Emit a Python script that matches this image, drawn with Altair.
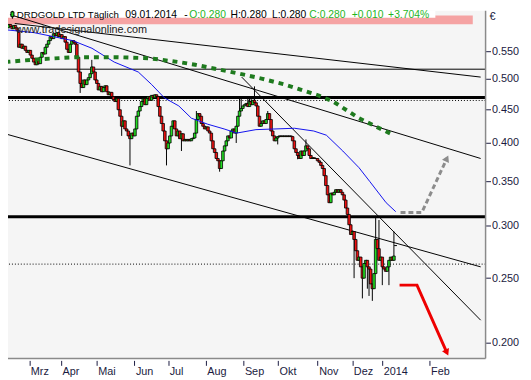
import altair as alt
import pandas as pd

# ---------------- data ----------------
closes = [
    .597, .604, .600, .595, .602, .597, .591, .558, .564, .556,
    .560, .552, .548, .552, .543, .537, .530, .525, .534, .527,
    .539, .548, .545, .558, .564, .571, .579, .575, .585, .581,
    .587, .579, .583, .575, .579, .568, .554, .548, .564, .571,
    .568, .564, .539, .512, .492, .485, .498, .490, .498, .502,
    .509, .521, .512, .498, .492, .481, .487, .478, .485, .488,
    .478, .473, .477, .470, .465, .462, .467, .449, .439, .424,
    .432, .420, .417, .410, .406, .414, .410, .420, .439, .447,
    .454, .462, .467, .457, .467, .470, .464, .472, .468, .473,
    .470, .454, .439, .428, .417, .403, .392, .400, .410, .424,
    .432, .420, .410, .417, .406, .413, .403, .405, .403, .405,
    .403, .406, .407, .414, .434, .443, .439, .428, .424, .420,
    .423, .417, .414, .403, .392, .387, .379, .376, .366, .376,
    .389, .396, .403, .410, .407, .417, .420, .414, .424, .439,
    .447, .451, .455, .457, .459, .454, .462, .457, .464, .460,
    .455, .439, .424, .428, .432, .428, .434, .443, .434, .417,
    .410, .403, .407, .409, .410, .409, .410, .409, .410, .409,
    .410, .409, .403, .392, .387, .383, .379, .389, .383, .389,
    .396, .392, .383, .379, .380, .379, .379, .376, .374, .370,
    .366, .357, .345, .334, .325, .336, .334, .337, .340, .337,
    .340, .337, .334, .328, .319, .312, .301, .291, .294, .286,
    .275, .266, .269, .260, .250, .263, .266, .260, .258, .245,
    .241, .254, .286, .277, .266, .269, .260, .258, .256, .260,
    .266, .269, .266, .270, .280,
]
first_open = 0.600
high_idx = [51, 114, 140, 141, 145, 146, 147, 149, 157, 180, 222, 224, 233]
high_val = [0.534, 0.447, 0.467, 0.470, 0.468, 0.467, 0.467, 0.487, 0.447, 0.405, 0.309, 0.306, 0.294]
low_idx = [44, 69, 74, 96, 105, 128, 138, 163, 175, 209, 214, 217, 218, 220, 226, 230]
low_val = [0.476, 0.410, 0.370, 0.370, 0.389, 0.362, 0.400, 0.398, 0.378, 0.250, 0.233, 0.241, 0.235, 0.231, 0.244, 0.244]

hdr_name = "DRDGOLD LTD Täglich"
hdr_date = "09.01.2014"
hdr_o, hdr_h, hdr_l, hdr_c = 0.280, 0.280, 0.280, 0.280
hdr_chg, hdr_pct = 0.010, 3.704
watermark = "www.tradesignalonline.com"
currency = "€"

ma_blue_i = [-1, 16.3, 27.9, 39.5, 51.1, 64.5, 79.0, 87.1, 94.7, 103.4, 111.0, 120.8,
             130.7, 138.3, 149.9, 173.1, 184.7, 192.3, 202.2, 212.0, 218.4, 228.3, 234.1]
ma_blue_p = [.593, .587, .579, .571, .556, .530, .512, .490, .468, .455, .436, .427,
             .420, .414, .419, .421, .417, .411, .389, .367, .350, .325, .315]
ma_green_i = [-1, 18.0, 41.2, 66.8, 86.0, 103.4, 113.3, 126.6, 140.0, 153.9, 167.3,
              173.1, 186.5, 196.4, 212.0, 222.5, 233.0]
ma_green_p = [.530, .535, .539, .539, .537, .530, .525, .517, .509, .500, .490,
              .485, .473, .462, .436, .423, .411]

level_thick = [0.4685, 0.3095]
level_thin = [0.517]
level_dotted = [0.4637, 0.2625]

trend_id = [1, 1, 2, 2, 3, 3, 4, 4]
trend_i = [4.6, 285.25, 1.7, 285.25, 141.3, 285.25, -1.2, 285.25]
trend_p = [0.606, 0.503, 0.625, 0.379, 0.503, 0.216, 0.413, 0.260]

gray_i = [237.0, 249.8, 264.9]
gray_p = [0.314, 0.314, 0.379]
red_i = [236.4, 246.9, 264.9]
red_p = [0.244, 0.244, 0.193]

month_names = ["Mrz", "Apr", "Mai", "Jun", "Jul", "Aug", "Sep", "Okt", "Nov", "Dez", "2014", "Feb"]
month_pos = [13.36, 32.53, 54.03, 76.69, 97.02, 119.68, 142.33, 163.25, 187.07, 207.98, 225.99, 254.46]
y_ticks = [0.2, 0.25, 0.3, 0.35, 0.4, 0.45, 0.5, 0.55]

# ---------------- build tables ----------------
n = len(closes)
opens = [first_open] + closes[:-1]
opens[-1] = hdr_o
highs = [max(o, c) for o, c in zip(opens, closes)]
lows = [min(o, c) for o, c in zip(opens, closes)]
for k, v in zip(high_idx, high_val):
    highs[k] = max(highs[k], v)
for k, v in zip(low_idx, low_val):
    lows[k] = min(lows[k], v)
candles = pd.DataFrame({
    "i": list(range(n)), "o": opens, "c": closes, "h": highs, "l": lows,
    "dir": ["up" if c >= o else "down" for o, c in zip(opens, closes)],
})

W, H = 485, 353
X_DOMAIN = [3.486, 285.25]
Y_DOMAIN = [0.1891, 0.6333]
UP, DOWN = "#22dd22", "#ee1111"
INK = "#1a1a40"
GTXT = "#1fb51f"
FONT = "Liberation Sans"

xs = alt.Scale(domain=X_DOMAIN, nice=False, zero=False)
ys = alt.Scale(type="log", domain=Y_DOMAIN, nice=False)

label_expr = "[{}][indexof([{}], datum.value)]".format(
    ",".join("'%s'" % m for m in month_names), ",".join(str(p) for p in month_pos))

x_axis = alt.Axis(values=month_pos, labelExpr=label_expr, title=None, grid=False, domain=False,
                  tickSize=5, tickColor=INK, labelColor=INK, labelFont=FONT, labelFontSize=11,
                  labelAlign="left", labelBaseline="top", labelPadding=0, offset=2,
                  labelOverlap=False, labelBound=False, labelFlush=False, labelOffset=1)
y_axis = alt.Axis(orient="right", values=y_ticks, format=".3f", title=None, grid=False,
                  domain=False, tickSize=5, tickColor=INK, labelColor=INK, labelFont=FONT,
                  labelFontSize=11, labelPadding=1, labelOverlap=False, labelBound=False)

one = pd.DataFrame({"k": [0]})

def xq(f):
    return alt.X(f, type="quantitative", scale=xs, axis=x_axis)

def yq(f):
    return alt.Y(f, type="quantitative", scale=ys, axis=y_axis)

layers = []
layers.append(alt.Chart(one).mark_rect(color="#f5a3a3").encode(
    x=alt.value(0), x2=alt.value(472), y=alt.value(4.7), y2=alt.value(13.7)))
layers.append(alt.Chart(one).mark_rect(color="white").encode(
    x=alt.value(0), x2=alt.value(434), y=alt.value(0), y2=alt.value(7)))

layers.append(alt.Chart(pd.DataFrame({"p": level_thin})).mark_rule(color="black", strokeWidth=1).encode(y=yq("p")))
layers.append(alt.Chart(pd.DataFrame({"p": level_dotted})).mark_rule(color="black", strokeWidth=1, strokeDash=[1, 2]).encode(y=yq("p")))
layers.append(alt.Chart(pd.DataFrame({"p": level_thick})).mark_rule(color="black", strokeWidth=3).encode(y=yq("p")))

trend = pd.DataFrame({"id": trend_id, "i": trend_i, "p": trend_p})
layers.append(alt.Chart(trend).mark_line(color="black", strokeWidth=1, clip=True).encode(
    x=xq("i"), y=yq("p"), detail="id:N"))

# candles
layers.append(alt.Chart(candles).mark_rule(color="black", strokeWidth=1, clip=True).encode(
    x=xq("i"), y=yq("l"), y2="h:Q"))
layers.append(alt.Chart(candles).mark_bar(size=2.6, stroke="black", strokeWidth=0.8, clip=True).encode(
    x=xq("i"), y=yq("o"), y2="c:Q",
    fill=alt.Fill("dir:N", scale=alt.Scale(domain=["up", "down"], range=[UP, DOWN]), legend=None)))

blue = pd.DataFrame({"i": ma_blue_i, "p": ma_blue_p})
layers.append(alt.Chart(blue).mark_line(color="#1010ee", strokeWidth=1, clip=True).encode(x=xq("i"), y=yq("p")))
green = pd.DataFrame({"i": ma_green_i, "p": ma_green_p})
layers.append(alt.Chart(green).mark_line(color="#1e7a1e", strokeWidth=4, strokeDash=[5, 5], strokeCap="butt", clip=True).encode(x=xq("i"), y=yq("p")))

gray = pd.DataFrame({"i": gray_i, "p": gray_p})
layers.append(alt.Chart(gray).mark_line(color="#8c8c8c", strokeWidth=3, strokeDash=[5, 3], clip=True).encode(x=xq("i"), y=yq("p")))
layers.append(alt.Chart(gray.tail(1)).mark_point(shape="triangle-up", filled=True, size=60, angle=25, color="#8c8c8c", opacity=1, clip=True).encode(x=xq("i"), y=yq("p")))
red = pd.DataFrame({"i": red_i, "p": red_p})
layers.append(alt.Chart(red).mark_line(color="#ee0000", strokeWidth=3, clip=True).encode(x=xq("i"), y=yq("p")))
layers.append(alt.Chart(red.tail(1)).mark_point(shape="triangle-down", filled=True, size=60, angle=335, color="#ee0000", opacity=1, clip=True).encode(x=xq("i"), y=yq("p")))

# header / watermark text
layers.append(alt.Chart(pd.DataFrame({"t": [watermark]})).mark_text(
    align="left", baseline="alphabetic", font=FONT, fontSize=11, color="#222222").encode(
    x=alt.value(8), y=alt.value(22), text="t:N"))

layers.append(alt.Chart(one).mark_rule(color="black", strokeWidth=1).encode(
    x=alt.value(4.5), y=alt.value(0), y2=alt.value(8)))
layers.append(alt.Chart(one).mark_rect(fill=UP, stroke="black", strokeWidth=1).encode(
    x=alt.value(3), x2=alt.value(6), y=alt.value(1), y2=alt.value(6)))

segs = [
    (hdr_name, 9, "black", 9.8),
    (hdr_date, 119, "black", 10.5),
    ("-", 179, "black", 10.5),
    ("O:%.3f" % hdr_o, 184, GTXT, 10.5),
    ("H:%.3f" % hdr_h, 226, "black", 10.5),
    ("L:%.3f" % hdr_l, 268, "black", 10.5),
    ("C:%.3f" % hdr_c, 306, GTXT, 10.5),
    ("+%.3f" % hdr_chg, 349, GTXT, 10.5),
    ("+%.3f%%" % hdr_pct, 386, GTXT, 10.5),
]
for txt, px, col, fs in segs:
    layers.append(alt.Chart(pd.DataFrame({"t": [txt]})).mark_text(
        align="left", baseline="alphabetic", font=FONT, fontSize=fs, color=col).encode(
        x=alt.value(px), y=alt.value(7.5), text="t:N"))

layers.append(alt.Chart(pd.DataFrame({"t": [currency]})).mark_text(
    align="left", baseline="top", font=FONT, fontSize=11, color=INK).encode(
    x=alt.value(489), y=alt.value(0), text="t:N"))

# frame (right and bottom edges)
layers.append(alt.Chart(one).mark_rule(color="#8a8a8a", strokeWidth=1.5).encode(
    x=alt.value(W), y=alt.value(0), y2=alt.value(H)))
layers.append(alt.Chart(one).mark_rule(color="#8a8a8a", strokeWidth=1.5).encode(
    x=alt.value(0), x2=alt.value(W), y=alt.value(H)))

chart = alt.layer(*layers).properties(
    width=W, height=H,
    autosize=alt.AutoSizeParams(type="none"),
    padding={"left": 0, "top": 0, "right": 38, "bottom": 18},
    background="white",
).configure_view(fill="#f5f5f5", stroke=None)

chart.save("out.html", embed_options={"renderer": "svg", "actions": False})
